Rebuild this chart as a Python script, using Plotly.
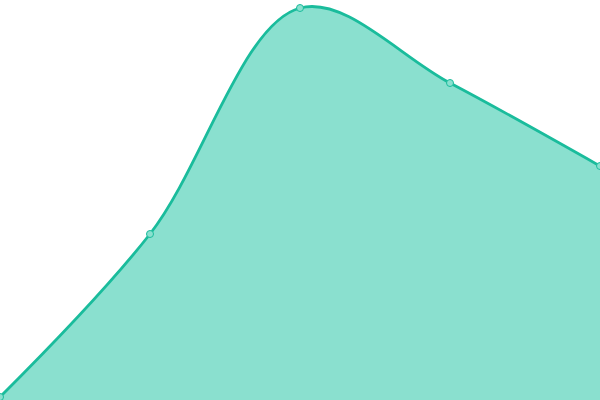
import plotly.graph_objects as go

# five points, spline area, no axes
x_vals = [0, 1, 2, 3, 4]
y_vals = [3, 166, 392, 317, 234]

fig = go.Figure()
fig.add_trace(go.Scatter(
    x=x_vals, y=y_vals,
    mode="lines+markers",
    line=dict(color="#1abc9c", width=2.8, shape="spline", smoothing=1),
    marker=dict(size=7, color="#8ae0cf", line=dict(color="#1abc9c", width=1)),
    fill="tozeroy",
    fillcolor="#8ae0cf",
    cliponaxis=True,
    hoverinfo="skip",
))

fig.update_layout(
    width=600, height=400,
    margin=dict(l=0, r=0, t=0, b=0),
    paper_bgcolor="white", plot_bgcolor="white",
    showlegend=False,
    xaxis=dict(visible=False, range=[0, 4]),
    yaxis=dict(visible=False, range=[0, 400]),
)

# the page's default body margin pushes the plot 8px in, drop it
fig.write_html("out.html", config={"displayModeBar": False},
               post_script="document.body.style.margin='0';")
